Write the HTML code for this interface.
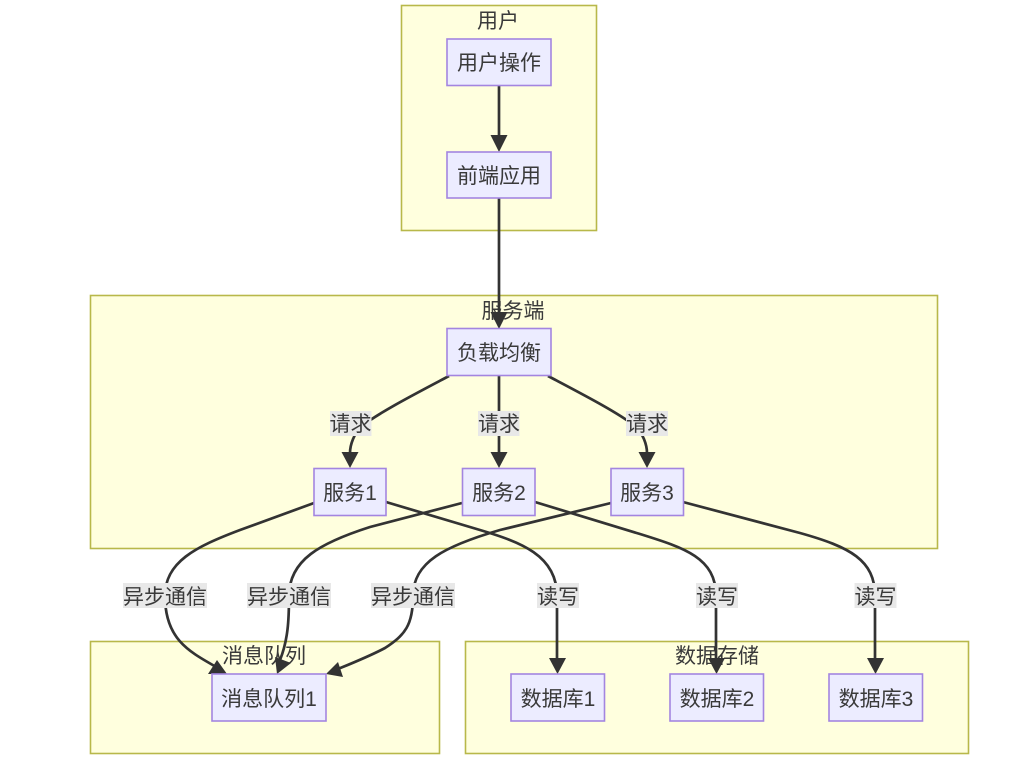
<!DOCTYPE html>
<html><head><meta charset="utf-8"><style>
html,body{margin:0;padding:0;background:#fff}
svg{display:block}
text{font-family:"Liberation Sans","Noto Sans CJK SC",sans-serif;font-size:21px;fill:#3a3a3a;text-anchor:middle;dominant-baseline:central}
.c{fill:#ffffde;stroke:#b8b84a;stroke-width:1.6}
.n{fill:#ececff;stroke:#a385e0;stroke-width:1.6}
.e{fill:none;stroke:#333;stroke-width:2.7}
.l{fill:#e8e8e8}
.h{fill:#333}
</style></head><body>
<svg width="1024" height="759" viewBox="0 0 1024 759" xmlns="http://www.w3.org/2000/svg">
<rect class="c" x="401.5" y="5.5" width="195" height="225"/>
<rect class="c" x="90.5" y="295.5" width="847" height="253"/>
<rect class="c" x="90.5" y="641.5" width="349" height="112"/>
<rect class="c" x="465.5" y="641.5" width="503" height="112"/>
<text x="498" y="21.500">用户</text>
<text x="513" y="311.500">服务端</text>
<text x="264" y="656.500">消息队列</text>
<text x="717" y="656.500">数据存储</text>

<path class="e" d="M499 85V136"/>
<polygon class="h" points="490.500,135 507.500,135 499,152"/>
<path class="e" d="M499 198V314"/>
<polygon class="h" points="490.500,312 507.500,312 499,329"/>

<path class="e" d="M449 376C415 394 380 412 362 426C354 433 350 445 350 453"/>
<polygon class="h" points="341.500,452 358.500,452 350,468"/>
<path class="e" d="M499 375V453"/>
<polygon class="h" points="490.500,452 507.500,452 499,468"/>
<path class="e" d="M548 376C582 394 617 412 635 426C643 433 647 445 647 453"/>
<polygon class="h" points="638.500,452 655.500,452 647,468"/>

<path class="e" d="M314 503L240 530C195 547 165 562 165 596C165 640 190 652 218 668"/>
<polygon class="h" points="217,660 208,674 227,674"/>
<path class="e" d="M462 503L370 527C320 543 289 560 289 596C289 620 288 640 280 660"/>
<polygon class="h" points="275,657 291,663 277,674"/>
<path class="e" d="M611 503L500 530C445 546 413 562 413 596C413 625 405 635 385 648C370 656 355 662 338 669"/>
<polygon class="h" points="338,662 343,677 326,674"/>

<path class="e" d="M386 502L480 530C520 542 557 555 557 596V659"/>
<polygon class="h" points="549,658 566,658 557.500,674"/>
<path class="e" d="M535 502L640 534C685 548 716 558 716 596V659"/>
<polygon class="h" points="708,658 725,658 716.500,674"/>
<path class="e" d="M683 502L800 533C850 547 875 560 875 596V659"/>
<polygon class="h" points="867,658 884,658 875.500,674"/>

<rect class="n" x="447" y="39" width="104" height="46.500"/>
<text x="499" y="63.500">用户操作</text>
<rect class="n" x="447" y="152" width="104" height="46"/>
<text x="499" y="176.500">前端应用</text>
<rect class="n" x="447" y="328.500" width="104" height="47"/>
<text x="499" y="353.500">负载均衡</text>
<rect class="n" x="314" y="468.500" width="72" height="47"/>
<text x="350" y="493.500">服务1</text>
<rect class="n" x="462.500" y="468.500" width="72.500" height="47"/>
<text x="499" y="493.500">服务2</text>
<rect class="n" x="611" y="468.500" width="72.500" height="47"/>
<text x="647" y="493.500">服务3</text>
<rect class="n" x="212" y="674" width="114" height="47"/>
<text x="269" y="699.500">消息队列1</text>
<rect class="n" x="511" y="674" width="93.500" height="47"/>
<text x="558" y="699.500">数据库1</text>
<rect class="n" x="670" y="674" width="93.500" height="47"/>
<text x="717" y="699.500">数据库2</text>
<rect class="n" x="829" y="674" width="93.500" height="47"/>
<text x="876" y="699.500">数据库3</text>

<rect class="l" x="330" y="411" width="41.500" height="25"/><text x="350.500" y="424.500">请求</text>
<rect class="l" x="478" y="411" width="41.500" height="25"/><text x="499" y="424.500">请求</text>
<rect class="l" x="626" y="411" width="42" height="25"/><text x="647" y="424.500">请求</text>
<rect class="l" x="123" y="583" width="84" height="25"/><text x="165" y="597.500">异步通信</text>
<rect class="l" x="247" y="583" width="84" height="25"/><text x="289" y="597.500">异步通信</text>
<rect class="l" x="371" y="583" width="84" height="25"/><text x="413" y="597.500">异步通信</text>
<rect class="l" x="537" y="583" width="42" height="25"/><text x="558" y="597.500">读写</text>
<rect class="l" x="696" y="583" width="42" height="25"/><text x="717" y="597.500">读写</text>
<rect class="l" x="854.500" y="583" width="42" height="25"/><text x="875.500" y="597.500">读写</text>
</svg>
</body></html>
